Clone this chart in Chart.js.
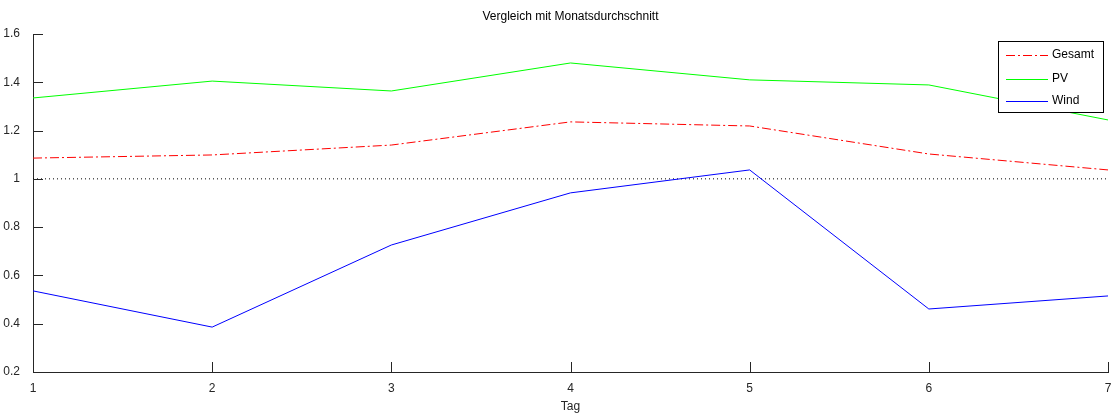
<!DOCTYPE html>
<html>
<head>
<meta charset="utf-8">
<script src="https://cdn.jsdelivr.net/npm/chart.js@4"></script>
<style>
  html, body { margin: 0; padding: 0; background: #fff; }
  #wrap { width: 1111px; height: 414px; }
</style>
</head>
<body>
<div id="wrap"><canvas id="chart" width="1111" height="414"></canvas></div>
<script>
// Tage und Werte
const tage = [1, 2, 3, 4, 5, 6, 7];
const gesamt = [1.086, 1.099, 1.140, 1.236, 1.219, 1.103, 1.037];
const pv = [1.335, 1.405, 1.364, 1.480, 1.410, 1.389, 1.244];
const wind = [0.536, 0.386, 0.726, 0.942, 1.037, 0.461, 0.515];
const referenz = [1, 1];
const referenzX = [1, 7];
const yTicks = [0.2, 0.4, 0.6, 0.8, 1, 1.2, 1.4, 1.6];
const serien = ['Gesamt', 'PV', 'Wind'];
const farben = ['#ff0000', '#00ff00', '#0000ff'];
const striche = [[9, 3, 2, 3], [], []];

const FONT = '"Liberation Sans", Arial, sans-serif';
const toPts = (xs, ys) => xs.map((x, i) => ({ x, y: ys[i] }));

// Tickmarks nach innen, Titel und Legende im Stil von MATLAB
const matlabStyle = {
  id: 'matlabStyle',
  beforeDraw: (chart) => {
    const ctx = chart.ctx;
    ctx.save();
    ctx.fillStyle = '#fff';
    ctx.fillRect(0, 0, chart.width, chart.height);
    ctx.restore();
  },
  afterDraw: (chart) => {
    const ctx = chart.ctx;
    const a = chart.chartArea;
    const xs = chart.scales.x;
    const ys = chart.scales.y;
    ctx.save();
    ctx.strokeStyle = '#262626';
    ctx.lineWidth = 1;
    ctx.beginPath();
    yTicks.forEach((v) => {
      const py = Math.round(ys.getPixelForValue(v)) + 0.5;
      ctx.moveTo(a.left, py);
      ctx.lineTo(a.left + 10, py);
    });
    tage.forEach((t) => {
      const px = Math.round(xs.getPixelForValue(t)) + 0.5;
      ctx.moveTo(px, a.bottom);
      ctx.lineTo(px, a.bottom - 10);
    });
    ctx.stroke();

    // Titel
    ctx.fillStyle = '#000';
    ctx.font = '12px ' + FONT;
    ctx.textAlign = 'center';
    ctx.textBaseline = 'middle';
    ctx.fillText('Vergleich mit Monatsdurchschnitt', (a.left + a.right) / 2, 17);

    // Legende
    const bx = 998.5, by = 41.5, bw = 105, bh = 71;
    ctx.fillStyle = '#fff';
    ctx.fillRect(bx, by, bw, bh);
    ctx.strokeStyle = '#000';
    ctx.setLineDash([]);
    ctx.strokeRect(bx, by, bw, bh);
    const rows = [55, 79, 101];
    serien.forEach((name, i) => {
      const y = rows[i] + 0.5;
      ctx.beginPath();
      ctx.strokeStyle = farben[i];
      ctx.setLineDash(striche[i]);
      ctx.moveTo(1006, y);
      ctx.lineTo(1048, y);
      ctx.stroke();
      ctx.setLineDash([]);
      ctx.fillStyle = '#000';
      ctx.textAlign = 'left';
      ctx.fillText(name, 1052, rows[i]);
    });
    ctx.restore();
  },
};

new Chart(document.getElementById('chart'), {
  type: 'line',
  data: {
    datasets: [
      { label: serien[0], data: toPts(tage, gesamt), borderColor: farben[0], borderWidth: 1, borderDash: striche[0] },
      { label: serien[1], data: toPts(tage, pv), borderColor: farben[1], borderWidth: 1 },
      { label: serien[2], data: toPts(tage, wind), borderColor: farben[2], borderWidth: 1 },
      { label: '', data: toPts(referenzX, referenz), borderColor: '#000', borderWidth: 1, borderDash: [1, 3] },
    ],
  },
  options: {
    responsive: false,
    animation: false,
    events: [],
    elements: { point: { radius: 0 }, line: { tension: 0 } },
    layout: { padding: { top: 34, right: 3, left: 0, bottom: 0 } },
    plugins: { legend: { display: false }, title: { display: false }, tooltip: { enabled: false } },
    scales: {
      x: {
        type: 'linear',
        min: 1,
        max: 7,
        afterBuildTicks: (s) => { s.ticks = tage.map((v) => ({ value: v })); },
        afterFit: (s) => { s.height = 42; s.paddingLeft = 0; s.paddingRight = 0; },
        grid: { display: false },
        border: { display: true, color: '#262626' },
        ticks: { padding: 1, color: '#262626', font: { family: FONT, size: 12 } },
        title: { display: true, text: 'Tag', color: '#262626', padding: { top: 3, bottom: 0 }, font: { family: FONT, size: 12 } },
      },
      y: {
        min: 0.2,
        max: 1.6,
        afterBuildTicks: (s) => { s.ticks = yTicks.map((v) => ({ value: v })); },
        afterFit: (s) => { s.width = 33; s.paddingTop = 0; s.paddingBottom = 0; },
        grid: { display: false },
        border: { display: true, color: '#262626' },
        ticks: { padding: 5, color: '#262626', font: { family: FONT, size: 12 }, callback: (v) => String(Math.round(v * 10) / 10) },
      },
    },
  },
  plugins: [matlabStyle],
});
</script>
</body>
</html>
